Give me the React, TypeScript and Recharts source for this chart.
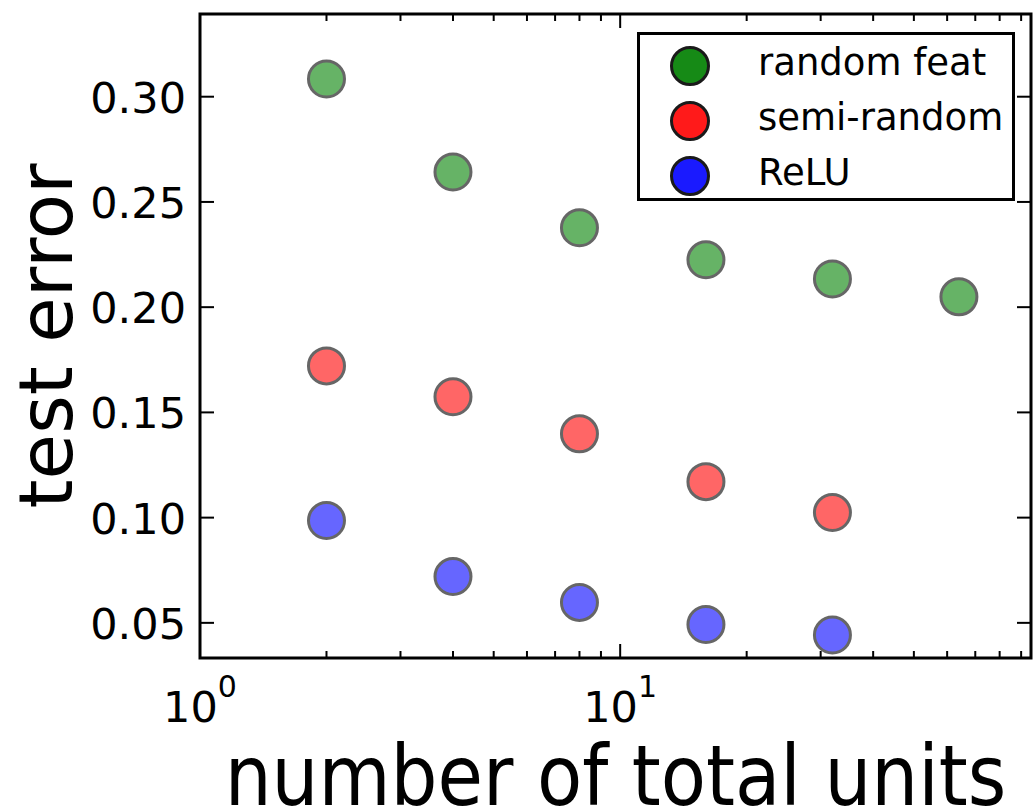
import { ScatterChart, Scatter, XAxis, YAxis, Legend, Label, ReferenceArea } from 'recharts'

// values
const units = [2, 4, 8, 16, 32, 64]
const randomFeat = [0.3084, 0.2642, 0.2377, 0.2225, 0.2134, 0.2049]
const semiRandom = [0.1721, 0.1574, 0.1398, 0.1171, 0.1024]
const relu = [0.0986, 0.072, 0.0597, 0.0492, 0.0442]

const xTicks = [1, 2, 3, 4, 5, 6, 7, 8, 9, 10, 20, 30, 40, 50, 60, 70, 80, 90]
const xMajor = [1, 10]
const yTicks = [0.05, 0.1, 0.15, 0.2, 0.25, 0.3]
const xDomain = [1, 95]
const yDomain = [0.0333, 0.3393]

const series = [
  { name: 'random feat', values: randomFeat, fill: '#66b366', legendFill: '#168a16' },
  { name: 'semi-random', values: semiRandom, fill: '#ff6666', legendFill: '#ff1a1a' },
  { name: 'ReLU', values: relu, fill: '#6666ff', legendFill: '#1a1aff' },
]

const FONT = '"DejaVu Sans", Verdana, sans-serif'
const W = 1033
const H = 811
const PLOT_W = 831
const PLOT_H = 644
const MAJOR = 14
const MINOR = 7

function XTick({ x, y, payload }: any) {
  const v = payload.value
  const major = xMajor.includes(v)
  const len = major ? MAJOR : MINOR
  const exp = Math.round(Math.log10(v))
  return (
    <g>
      <line x1={x} y1={y} x2={x} y2={y - len} stroke="#000" strokeWidth={2} />
      <line x1={x} y1={y - PLOT_H} x2={x} y2={y - PLOT_H + len} stroke="#000" strokeWidth={2} />
      {major && (
        <text x={x} y={y + 64} textAnchor="middle" fontSize={43} fontFamily={FONT} fill="#000">
          <tspan>10</tspan>
          <tspan dy={-25} fontSize={30}>{exp}</tspan>
        </text>
      )}
    </g>
  )
}

function YTick({ x, y, payload }: any) {
  return (
    <g>
      <line x1={x} y1={y} x2={x + MAJOR} y2={y} stroke="#000" strokeWidth={2} />
      <line x1={x + PLOT_W} y1={y} x2={x + PLOT_W - MAJOR} y2={y} stroke="#000" strokeWidth={2} />
      <text x={x - 14} y={y + 16} textAnchor="end" fontSize={43} fontFamily={FONT} fill="#000">
        {payload.value.toFixed(2)}
      </text>
    </g>
  )
}

function LegendBox() {
  return (
    <svg width={378} height={169} style={{ display: 'block' }}>
      <rect x={1.5} y={1.5} width={375} height={166} fill="#fff" stroke="#000" strokeWidth={3} />
      {series.map((s, i) => (
        <g key={s.name}>
          <circle cx={53} cy={34 + i * 55} r={18.5} fill={s.legendFill} stroke="#1a1a1a" strokeWidth={3} />
          <text x={121} y={43 + i * 55} fontSize={37} fontFamily={FONT} fill="#000">
            {s.name}
          </text>
        </g>
      ))}
    </svg>
  )
}

export default function App() {
  return (
    <div style={{ position: 'absolute', left: 0, top: 0, width: W, height: H, background: '#fff' }}>
      <ScatterChart width={W} height={H} margin={{ top: 14, right: 2, left: 0, bottom: 0 }}>
        <XAxis
          type="number"
          dataKey="x"
          scale="log"
          domain={xDomain}
          allowDataOverflow
          ticks={xTicks}
          interval={0}
          tickSize={0}
          tickMargin={0}
          tickLine={false}
          axisLine={false}
          height={H - 14 - PLOT_H}
          tick={<XTick />}
        >
          <Label
            content={({ viewBox }: any) => (
              <text
                transform={`translate(${viewBox.x + viewBox.width / 2}, ${viewBox.y + 147}) scale(1, 1.14)`}
                x={0}
                y={0}
                textAnchor="middle"
                fontSize={74}
                fontFamily={FONT}
                fill="#000"
              >
                number of total units
              </text>
            )}
          />
        </XAxis>
        <YAxis
          type="number"
          dataKey="y"
          domain={yDomain}
          allowDataOverflow
          ticks={yTicks}
          interval={0}
          tickSize={0}
          tickMargin={0}
          tickLine={false}
          axisLine={false}
          width={200}
          tick={<YTick />}
        >
          <Label
            content={({ viewBox }: any) => {
              const lx = viewBox.x + 72
              const ly = viewBox.y + viewBox.height / 2
              return (
                <text
                  x={lx}
                  y={ly}
                  transform={`rotate(-90, ${lx}, ${ly})`}
                  textAnchor="middle"
                  fontSize={74}
                  fontFamily={FONT}
                  fill="#000"
                >
                  test error
                </text>
              )
            }}
          />
        </YAxis>
        <ReferenceArea
          x1={xDomain[0]}
          x2={xDomain[1]}
          y1={yDomain[0]}
          y2={yDomain[1]}
          fill="none"
          stroke="#000"
          strokeWidth={3}
          ifOverflow="visible"
        />
        {series.map((s) => (
          <Scatter
            key={s.name}
            name={s.name}
            data={s.values.map((v, i) => ({ x: units[i], y: v }))}
            isAnimationActive={false}
            shape={(p: any) => (
              <circle cx={p.cx} cy={p.cy} r={18} fill={s.fill} stroke="#666666" strokeWidth={3} />
            )}
          />
        ))}
        <Legend
          layout="horizontal"
          verticalAlign="middle"
          align="center"
          wrapperStyle={{ left: 637, top: 32, width: 378, height: 169 }}
          content={() => <LegendBox />}
        />
      </ScatterChart>
    </div>
  )
}
